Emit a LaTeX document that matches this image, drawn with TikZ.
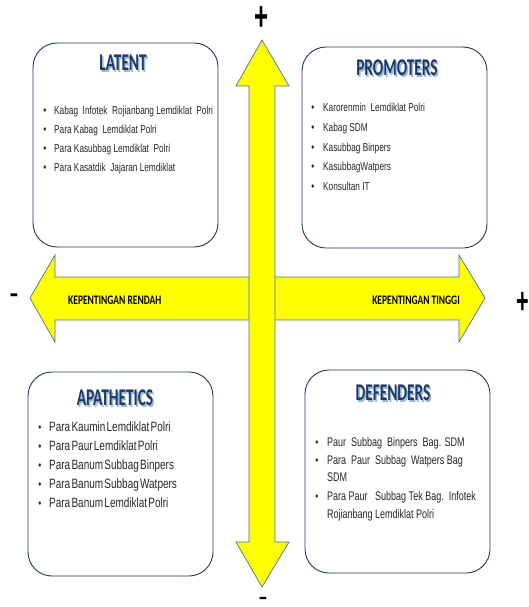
\documentclass[tikz,border=0pt]{standalone}
\usepackage{fontspec}
\setmainfont{Liberation Sans}
\newfontfamily\itemfont[FakeStretch=0.72]{Liberation Sans}
\newfontfamily\apafont[FakeStretch=0.74,WordSpace=0.45]{Liberation Sans}
\newfontfamily\headfont[FakeStretch=0.64]{Carlito}
\newfontfamily\axisfont[FakeStretch=0.73]{Carlito}

\definecolor{arrowyellow}{RGB}{255,255,0}
\definecolor{arrowline}{RGB}{68,114,170}
\definecolor{boxline}{RGB}{32,56,100}
\definecolor{headblue}{RGB}{31,56,100}
\definecolor{glowblue}{RGB}{150,185,225}
\definecolor{itemgrey}{RGB}{40,40,40}

\tikzset{
  arrowbody/.style={fill=arrowyellow, draw=arrowline, line width=0.7pt, line join=miter},
  quadbox/.style={draw=boxline, line width=0.9pt, fill=white, rounded corners=24pt, inner sep=0pt},
  headline/.style={font=\headfont\bfseries\fontsize{24}{24}\selectfont, text=headblue, inner sep=0pt},
  headglow/.style={headline, text=glowblue},
  dot/.style={font=\itemfont\fontsize{12}{12}\selectfont, text=itemgrey, inner sep=0pt, anchor=base},
  item/.style={font=\itemfont\fontsize{11.5}{11.5}\selectfont, text=itemgrey, inner sep=0pt, anchor=base west},
  apaitem/.style={item, font=\apafont\fontsize{13.5}{13.5}\selectfont},
  defitem/.style={item, font=\itemfont\fontsize{12.5}{12.5}\selectfont},
  axislabel/.style={font=\axisfont\bfseries\fontsize{13}{13}\selectfont, inner sep=0pt},
  sign/.style={font=\bfseries\fontsize{24}{24}\selectfont, inner sep=0pt}
}

\begin{document}
\begin{tikzpicture}[x=1pt,y=-1pt]
  \useasboundingbox (0,0) rectangle (529,607);

  % horizontal arrow, then the vertical one on top
  \filldraw[arrowbody] (30,298) -- (55,255) -- (55,277) -- (459,277) -- (459,255)
    -- (485,298) -- (459,342) -- (459,320) -- (55,320) -- (55,342) -- cycle;
  \filldraw[arrowbody] (262,40) -- (289,86) -- (275,86) -- (275,542) -- (289,542)
    -- (262,587) -- (236,542) -- (249,542) -- (249,86) -- (236,86) -- cycle;

  \node[axislabel, anchor=west] (low) at (68,300) {KEPENTINGAN RENDAH};
  \node[axislabel, anchor=east] (high) at (460,300) {KEPENTINGAN TINGGI};

  % signs at the arrow ends
  \node[sign] (plustop) at (262,19) {\scalebox{1}[1.7]{+}};
  \node[sign] (plusright) at (523,303) {\scalebox{0.9}[1.5]{+}};
  \node[sign] (minusleft) at (14,298) {\scalebox{1.1}[1]{-}};
  \node[sign] (minusbottom) at (263,600) {\scalebox{1.1}[0.8]{-}};

  % the four boxes
  \node[quadbox, minimum width=185pt, minimum height=204pt] (latent) at (125.5,145) {};
  \node[quadbox, minimum width=185pt, minimum height=201pt] (promoters) at (394.5,147.5) {};
  \node[quadbox, minimum width=185pt, minimum height=204pt] (apathetics) at (120.5,474) {};
  \node[quadbox, minimum width=185pt, minimum height=203pt] (defenders) at (397.5,471.5) {};

  \node[headglow] at (124.5,64.5) {LATENT};
  \node[headline] (latenthead) at (123,63) {LATENT};
  \node[headglow] at (398.5,69.5) {PROMOTERS};
  \node[headline] (promhead) at (397,68) {PROMOTERS};
  \node[headglow] at (116.5,399.5) {APATHETICS};
  \node[headline] (apahead) at (115,398) {APATHETICS};
  \node[headglow] at (394.5,394.5) {DEFENDERS};
  \node[headline] (defhead) at (393,393) {DEFENDERS};

  \foreach \t [count=\i] in {Kabag\ \ Infotek\ \ Rojianbang Lemdiklat\ \ Polri,
      Para Kabag\ \ Lemdiklat Polri, Para Kasubbag Lemdiklat\ \ Polri,
      Para Kasatdik\ \ Jajaran Lemdiklat} {
    \node[dot] (latdot\i) at (45,{114+19.2*\i-19.2}) {\textbullet};
    \node[item] (lat\i) at (54,{114+19.2*\i-19.2}) {\t};
  }

  \foreach \t [count=\i] in {Karorenmin\ \ Lemdiklat Polri, Kabag SDM,
      Kasubbag Binpers, KasubbagWatpers, Konsultan IT} {
    \node[dot] (promdot\i) at (313,{112+19.5*\i-19.5}) {\textbullet};
    \node[item] (prom\i) at (323,{112+19.5*\i-19.5}) {\t};
  }

  \foreach \t [count=\i] in {Para Kaumin Lemdiklat Polri, Para Paur Lemdiklat Polri,
      Para Banum Subbag Binpers, Para Banum Subbag Watpers, Para Banum Lemdiklat Polri} {
    \node[dot] (apadot\i) at (40,{431+19.2*\i-19.2}) {\textbullet};
    \node[apaitem] (apa\i) at (49,{431+19.2*\i-19.2}) {\t};
  }

  \node[dot] (defdot1) at (317,446) {\textbullet};
  \node[defitem] (def1) at (327,446) {Paur\ \ Subbag\ \ Binpers\ \ Bag. SDM};
  \node[dot] (defdot2) at (317,464) {\textbullet};
  \node[defitem] (def2) at (327,464) {Para\ \ Paur\ \ Subbag\ \ Watpers Bag};
  \node[defitem] (def2b) at (327,481) {SDM};
  \node[dot] (defdot3) at (317,500) {\textbullet};
  \node[defitem] (def3) at (327,500) {Para Paur\ \ \ Subbag Tek Bag.\ \ Infotek};
  \node[defitem] (def3b) at (327,518) {Rojianbang Lemdiklat Polri};
\end{tikzpicture}
\end{document}
